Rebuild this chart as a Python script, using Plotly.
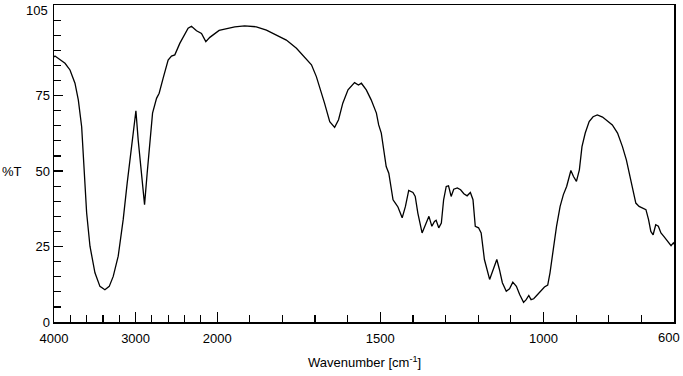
import plotly.graph_objects as go

# Wavenumber (cm^-1) and transmittance (%T)
wavenumber = [4000, 3988, 3865, 3804, 3743, 3702, 3661, 3641, 3620, 3600, 3559, 3498, 3437, 3376, 3323,
              3274, 3213, 3152, 3103, 3049, 2996, 2968, 2939, 2890, 2858, 2825, 2792, 2743, 2711, 2662,
              2601, 2560, 2519, 2458, 2397, 2356, 2315, 2253, 2192, 2139, 2090, 2029, 1994, 1977, 1946,
              1916, 1880, 1849, 1818, 1788, 1757, 1732, 1711, 1696, 1683, 1671, 1655, 1640, 1628, 1615,
              1599, 1579, 1567, 1558, 1543, 1528, 1512, 1505, 1497, 1489, 1482, 1474, 1468, 1461, 1454,
              1446, 1433, 1423, 1413, 1400, 1393, 1385, 1372, 1364, 1351, 1342, 1334, 1329, 1321, 1313,
              1306, 1298, 1291, 1283, 1275, 1264, 1254, 1244, 1234, 1224, 1216, 1209, 1199, 1191, 1181,
              1165, 1155, 1143, 1135, 1126, 1114, 1104, 1094, 1083, 1073, 1061, 1053, 1045, 1038, 1030,
              1018, 1005, 997, 987, 980, 970, 960, 949, 939, 929, 916, 908, 899, 890, 882,
              872, 860, 848, 835, 819, 804, 789, 773, 758, 746, 735, 727, 717, 707, 695,
              686, 678, 671, 664, 656, 648, 640, 630, 620, 609, 602, 600]
transmittance = [87.8, 88.1, 85.7, 83.5, 79.1, 73.6, 64.7, 54.8, 44.9, 36.2, 25.1, 16.3, 11.8, 10.7, 11.8,
                 15.1, 21.8, 33.9, 46.0, 58.1, 70.0, 60.3, 51.5, 38.9, 49.3, 60.3, 69.2, 74.1, 75.8, 80.8,
                 86.8, 88.1, 88.5, 92.3, 95.6, 97.3, 98.0, 96.5, 95.6, 92.9, 94.3, 95.6, 96.6, 97.0, 97.8,
                 98.1, 97.8, 96.7, 95.1, 93.4, 90.7, 87.9, 85.2, 81.3, 76.9, 72.5, 66.4, 64.5, 67.0, 72.5,
                 76.9, 79.3, 78.5, 79.1, 76.9, 73.6, 69.2, 65.3, 62.6, 57.0, 51.5, 49.3, 44.9, 40.5, 39.4,
                 38.1, 34.5, 38.3, 43.6, 42.9, 41.6, 36.1, 29.5, 31.7, 35.0, 31.7, 33.3, 33.7, 31.2, 32.8,
                 40.5, 44.9, 45.1, 41.6, 44.0, 44.4, 43.8, 42.5, 41.8, 42.9, 40.5, 31.7, 31.2, 29.5, 20.7,
                 14.1, 16.8, 20.7, 17.4, 13.0, 10.2, 11.0, 13.2, 11.8, 9.1, 6.5, 7.4, 8.8, 7.4, 7.7,
                 9.1, 10.7, 11.6, 12.2, 16.3, 24.0, 31.7, 38.3, 42.2, 44.9, 50.2, 48.2, 46.6, 50.4, 58.1,
                 62.6, 66.4, 68.0, 68.6, 67.9, 66.7, 65.3, 62.6, 58.1, 53.7, 48.2, 43.8, 39.4, 38.3, 37.8,
                 37.2, 33.9, 30.0, 28.9, 32.2, 31.7, 29.5, 28.2, 26.7, 25.3, 26.2, 25.8]

x_major = [4000, 3000, 2000, 1500, 1000, 600]
x_major_labels = ["4000", "3000", "2000", "1500", "1000", "600"]
x_minor = [3800, 3600, 3400, 3200, 2800, 2600, 2400, 2200,
           1900, 1800, 1700, 1600, 1400, 1300, 1200, 1100, 900, 800, 700]
y_major = [0, 25, 50, 75, 105]
y_major_labels = ["0", "25", "50", "75", "105"]


def to_axis(wn):
    # scale change at 2000 cm^-1: region above 2000 is compressed 4x
    return wn if wn <= 2000 else 2000 + (wn - 2000) / 4.0


FONT = "Liberation Sans, Arial, sans-serif"

fig = go.Figure()
fig.add_trace(go.Scatter(
    x=[to_axis(w) for w in wavenumber], y=transmittance,
    mode="lines", line=dict(color="black", width=1.3),
    hoverinfo="skip", showlegend=False))

# the last x label and the top y label sit on the frame edge; they are drawn
# as annotations so they stay inside the page
fig.update_layout(
    width=683, height=376,
    margin=dict(l=54, r=9, t=5, b=54, autoexpand=False),
    paper_bgcolor="white", plot_bgcolor="white",
    font=dict(family=FONT, size=13, color="black"),
    xaxis=dict(
        range=[to_axis(4000), to_axis(600)],
        tickmode="array",
        tickvals=[to_axis(w) for w in x_major[:-1]], ticktext=x_major_labels[:-1],
        ticks="inside", ticklen=10, tickwidth=1.2, tickcolor="black",
        ticklabelstandoff=4, ticklabeloverflow="allow",
        minor=dict(tickmode="array", tickvals=[to_axis(w) for w in x_minor],
                   ticks="inside", ticklen=7, tickwidth=1.2, tickcolor="black", showgrid=False),
        showline=True, linecolor="black", linewidth=1.5, mirror=True,
        showgrid=False, zeroline=False,
        tickfont=dict(family=FONT, size=13),
    ),
    yaxis=dict(
        range=[0, 105.02],
        tickmode="array", tickvals=y_major[:-1], ticktext=y_major_labels[:-1],
        ticks="inside", ticklen=9, tickwidth=1.2, tickcolor="black",
        ticklabeloverflow="allow",
        minor=dict(tick0=0, dtick=5, ticks="inside", ticklen=7, tickwidth=1.2,
                   tickcolor="black", showgrid=False),
        showline=True, linecolor="black", linewidth=1.5, mirror=True,
        showgrid=False, zeroline=False,
        tickfont=dict(family=FONT, size=13),
    ),
    annotations=[
        dict(text="Wavenumber [cm<sup>-1</sup>]", xref="paper", yref="paper",
             x=0.5, y=0, yshift=-40, xanchor="center", yanchor="middle",
             showarrow=False, font=dict(family=FONT, size=13)),
        dict(text="%T", xref="paper", yref="y", x=0, y=50, xshift=-54,
             xanchor="left", yanchor="middle", showarrow=False,
             font=dict(family=FONT, size=13)),
        dict(text=x_major_labels[-1], xref="x", yref="paper",
             x=to_axis(x_major[-1]), y=0, xshift=8, yshift=-6,
             xanchor="right", yanchor="top", showarrow=False,
             font=dict(family=FONT, size=13)),
        dict(text=y_major_labels[-1], xref="paper", yref="y",
             x=0, y=y_major[-1], xshift=-4, yshift=4,
             xanchor="right", yanchor="top", showarrow=False,
             font=dict(family=FONT, size=13)),
    ],
)

fig.write_html("out.html",
               config={"displayModeBar": False, "staticPlot": True},
               post_script="document.body.style.margin='0';document.body.style.overflow='hidden';")
